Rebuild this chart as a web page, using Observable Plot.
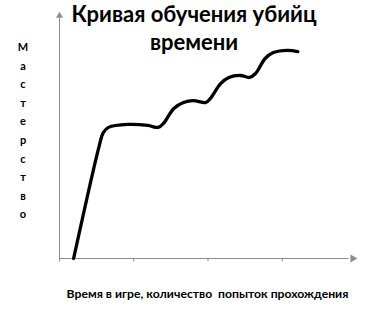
<!DOCTYPE html>
<html>
<head>
<meta charset="utf-8">
<script src="https://cdn.jsdelivr.net/npm/d3@7"></script>
<script src="https://cdn.jsdelivr.net/npm/@observablehq/plot@0.6"></script>
<style>
  html, body { margin: 0; padding: 0; background: #fff; }
  #wrap { position: relative; width: 378px; height: 312px; font-family: Lato, "Open Sans", sans-serif; }
  #title { position: absolute; left: 0; width: 388px; top: 0px; text-align: center; font-weight: bold; font-size: 22px; line-height: 28px; color: #000; }
  #ylab { position: absolute; left: 14px; width: 18px; top: 38px; text-align: center; font-weight: bold; font-size: 11px; line-height: 18.6px; color: #000; }
  #xlab { position: absolute; left: 0; width: 415px; top: 286px; text-align: center; font-weight: bold; font-size: 12.2px; white-space: pre; color: #000; }
  svg { position: absolute; left: 0; top: 0; }
</style>
</head>
<body>
<div id="wrap"></div>
<script>
const titleLines = ["Кривая обучения убийц", "времени"];
const yLabel = "Мастерство";
const xLabel = "Время в игре, количество  попыток прохождения";
const xTicks = [0, 1, 2, 3];
const curveX = [0.19, 0.53, 0.59, 0.66, 0.92, 1.19, 1.33, 1.40, 1.54, 1.67, 1.80, 1.97, 2.03, 2.17, 2.28, 2.44, 2.56, 2.64, 2.77, 2.88, 3.07, 3.21];
const curveY = [0, 4.52, 5.12, 5.33, 5.45, 5.41, 5.33, 5.49, 6.10, 6.34, 6.42, 6.34, 6.50, 7.11, 7.36, 7.44, 7.36, 7.52, 8.13, 8.37, 8.46, 8.41];

const curve = curveX.map((x, i) => ({x, y: curveY[i]}));
const axisGray = "#8c8c8c";

const plot = Plot.plot({
  width: 378,
  height: 312,
  marginLeft: 59,
  marginRight: 22,
  marginTop: 12,
  marginBottom: 54,
  x: {type: "linear", domain: [0, 4], axis: null},
  y: {type: "linear", domain: [0, 10], axis: null},
  marks: [
    Plot.ruleY([0], {x1: 0, x2: 3.9, stroke: axisGray, strokeWidth: 1}),
    Plot.ruleX([0], {y1: 0, y2: 9.75, stroke: axisGray, strokeWidth: 1}),
    Plot.ruleX(xTicks, {x: d => d, y1: 0, y2: -0.14, stroke: axisGray, strokeWidth: 1}),
    Plot.dot([{x: 3.95, y: 0}], {x: "x", y: "y", symbol: "triangle", r: 3, rotate: 90, fill: axisGray, stroke: "none"}),
    Plot.dot([{x: 0, y: 9.87}], {x: "x", y: "y", symbol: "triangle", r: 2.6, rotate: 0, fill: axisGray, stroke: "none"}),
    Plot.line(curve, {x: "x", y: "y", curve: "catmull-rom", stroke: "#000", strokeWidth: 3.3, strokeLinecap: "round", strokeLinejoin: "round"})
  ]
});

const wrap = document.getElementById("wrap");
wrap.appendChild(plot);

const t = document.createElement("div");
t.id = "title";
t.innerHTML = titleLines.map(s => `<div>${s}</div>`).join("");
wrap.appendChild(t);

const yl = document.createElement("div");
yl.id = "ylab";
yl.innerHTML = Array.from(yLabel).map(c => `<div>${c}</div>`).join("");
wrap.appendChild(yl);

const xl = document.createElement("div");
xl.id = "xlab";
xl.textContent = xLabel;
wrap.appendChild(xl);
</script>
</body>
</html>
